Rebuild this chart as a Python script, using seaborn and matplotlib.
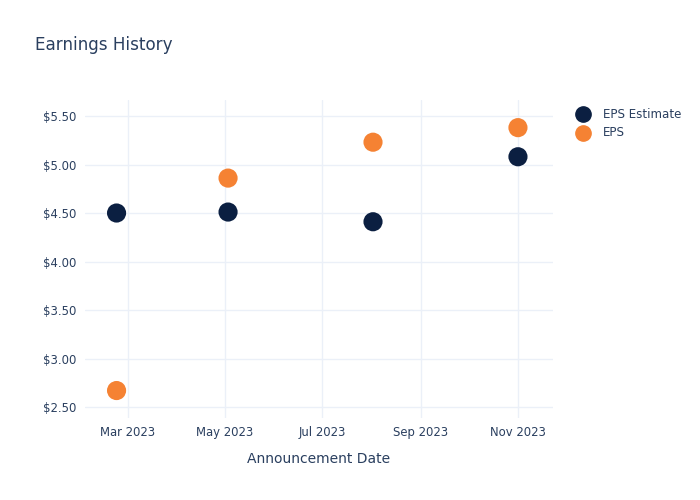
import matplotlib
matplotlib.use("Agg")
import matplotlib.pyplot as plt
import matplotlib.dates as mdates
from matplotlib.ticker import FuncFormatter
import seaborn as sns
import pandas as pd
import numpy as np

dates = ["2023-02-22", "2023-05-03", "2023-08-02", "2023-11-01"]
eps_estimate = [4.50, 4.51, 4.41, 5.08]
eps_actual = [2.67, 4.86, 5.23, 5.38]
series_names = ["EPS Estimate", "EPS"]
colors = ["#0b1f41", "#f58233"]

df = pd.DataFrame({
    "date": pd.to_datetime(dates * 2),
    "value": eps_estimate + eps_actual,
    "series": [series_names[0]] * len(dates) + [series_names[1]] * len(dates),
})

sns.set_theme(style="white")
plt.rcParams["font.family"] = ["DejaVu Sans"]
text_color = "#2a3f5f"
grid_color = "#ebf0f8"

fig = plt.figure(figsize=(7, 5), dpi=100)
ax = fig.add_axes([0.121, 0.164, 0.669, 0.636])

sns.scatterplot(data=df, x="date", y="value", hue="series",
                palette=dict(zip(series_names, colors)), s=190,
                edgecolor="none", ax=ax, zorder=3, legend=False)

ax.set_xlim(pd.Timestamp("2023-02-02"), pd.Timestamp("2023-11-23"))
ax.set_ylim(2.387, 5.665)
ax.set_yticks([2.5, 3.0, 3.5, 4.0, 4.5, 5.0, 5.5])
ax.yaxis.set_major_formatter(FuncFormatter(lambda v, p: f"${v:.2f}"))
ax.set_xticks(pd.to_datetime(["2023-03-01", "2023-05-01", "2023-07-01", "2023-09-01", "2023-11-01"]))
ax.xaxis.set_major_formatter(mdates.DateFormatter("%b %Y"))

ax.grid(True, color=grid_color, linewidth=1)
ax.set_axisbelow(True)
for sp in ax.spines.values():
    sp.set_visible(False)
ax.tick_params(axis="both", length=0, colors=text_color, labelsize=8.4)
ax.tick_params(axis="y", pad=6)
ax.tick_params(axis="x", pad=6)

ax.set_xlabel("Announcement Date", fontsize=10, color=text_color, labelpad=9)
ax.set_ylabel("")

fig.text(0.05, 0.911, "Earnings History", fontsize=12.1, color=text_color, ha="left", va="center")

# legend
for i, (name, c) in enumerate(zip(series_names, colors)):
    y = 1 - (114 + 19 * i) / 500
    fig.add_artist(plt.Line2D([583 / 700], [y], marker="o", markersize=11, color=c,
                              linestyle="none", transform=fig.transFigure))
    fig.text(603 / 700, y, name, fontsize=8.6, color=text_color, ha="left", va="center")

fig.savefig("out.png", dpi=100)
